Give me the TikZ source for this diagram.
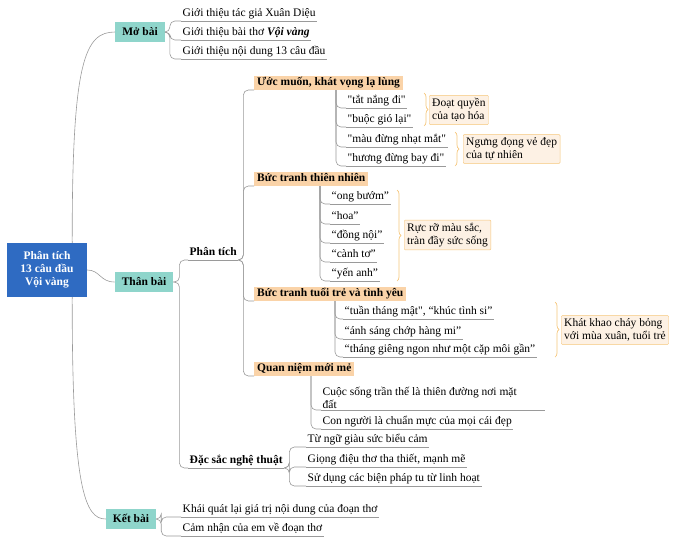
\documentclass[tikz,border=0pt]{standalone}
\usepackage{fontspec}
\setmainfont{Liberation Serif}
\usetikzlibrary{decorations.pathreplacing}
\definecolor{teal1}{HTML}{8FD5CB}
\definecolor{or1}{HTML}{FAD3A8}
\definecolor{or2}{HTML}{F5C67A}
\definecolor{note}{HTML}{FDF1E4}
\definecolor{rootb}{HTML}{2F6BC2}
\definecolor{ln}{HTML}{9A9A9A}
\newcommand\dq{\textquotedbl}
\tikzset{
 line/.style={draw=ln,line width=0.6pt},
 base/.style={font=\fontsize{11.5}{13}\selectfont,inner sep=1.5pt,text height=8.5pt,text depth=2.5pt},
 leaf/.style={base,anchor=south west,append after command={(\tikzlastnode.south west) edge[line] (\tikzlastnode.south east)}},
 main/.style={base,fill=teal1,font=\fontsize{11.5}{13}\selectfont\bfseries,minimum height=20pt,inner xsep=7pt},
 sub/.style={base,anchor=south west,fill=or1,font=\fontsize{11.5}{13}\selectfont\bfseries,inner xsep=3pt},
 nt/.style={base,draw=or2,fill=note,align=left,anchor=west,inner sep=3pt,text height=,text depth=,rounded corners=1pt},
 br/.style={draw=or2,line width=0.7pt,decorate,decoration={brace,amplitude=4pt}},
 cn/.style={line,rounded corners=5pt}
}
\begin{document}
\begin{tikzpicture}[x=1pt,y=-1pt]
\useasboundingbox (0,0) rectangle (680,541);
% root
\node[fill=rootb,text=white,font=\fontsize{11.5}{13}\selectfont\bfseries,align=center,minimum width=80pt,minimum height=54pt,inner sep=2pt] (root) at (47,270) {Phân tích\\13 câu đầu\\Vội vàng};
\node[main] (mb) at (140,32) {Mở bài};
\node[main] (tb) at (144,282) {Thân bài};
\node[main] (kb) at (131,519) {Kết bài};
\draw[line] ([xshift=-15pt]root.north east) .. controls (72,60) and (85,32) .. (mb.west);
\draw[line] (root.east) .. controls (100,270) and (100,282) .. (tb.west);
\draw[line] ([xshift=-15pt]root.south east) .. controls (72,490) and (85,519) .. (kb.west);
% Mo bai
\node[leaf] (m1) at (181,21) {Giới thiệu tác giả Xuân Diệu};
\node[leaf] (m2) at (181,40) {Giới thiệu bài thơ \textbf{\textit{Vội vàng}}};
\node[leaf] (m3) at (181,59) {Giới thiệu nội dung 13 câu đầu};
\foreach \c in {m1,m2,m3} \draw[cn] (mb.east) -- ++(5,0) |- (\c.south west);
% Than bai
\node[base,anchor=south west,font=\fontsize{11.5}{13}\selectfont\bfseries] (pt) at (188,260) {Phân tích};
\node[base,anchor=south west,font=\fontsize{11.5}{13}\selectfont\bfseries] (ds) at (188,468) {Đặc sắc nghệ thuật};
\draw[line] (pt.south west) -- (pt.south east);
\draw[line] (ds.south west) -- (ds.south east);
\draw[cn] (tb.east) -- ++(6,0) |- (pt.south west);
\draw[cn] (tb.east) -- ++(6,0) |- (ds.south west);
% Phan tich subs
\node[sub] (u) at (254,90) {Ước muốn, khát vọng lạ lùng};
\node[sub] (t) at (254,186) {Bức tranh thiên nhiên};
\node[sub] (y) at (254,301) {Bức tranh tuổi trẻ và tình yêu};
\node[sub] (q) at (254,376) {Quan niệm mới mẻ};
\foreach \c in {u,t,y,q} \draw[cn] (pt.south east) -- ++(5,0) |- (\c.south west);
% Uoc muon
\node[leaf] (u1) at (346,108) {\dq tắt nắng đi\dq};
\node[leaf] (u2) at (346,127) {\dq buộc gió lại\dq};
\node[leaf] (u3) at (346,147) {\dq màu đừng nhạt mắt\dq};
\node[leaf] (u4) at (346,166) {\dq hương đừng bay đi\dq};
\foreach \c in {u1,u2,u3,u4} \draw[cn] ([xshift=82pt]u.south west) |- (\c.south west);
\draw[br] (424,93) -- (424,126);
\draw[br] (455,132) -- (455,166);
\node[nt] (n1) at (429,110) {Đoạt quyền\\của tạo hóa};
\node[nt] (n2) at (463,149) {Ngưng đọng vẻ đẹp\\của tự nhiên};
% Thien nhien
\node[leaf] (t1) at (330,204) {“ong bướm”};
\node[leaf] (t2) at (330,224) {“hoa”};
\node[leaf] (t3) at (330,243) {“đồng nội”};
\node[leaf] (t4) at (330,262) {“cành tơ”};
\node[leaf] (t5) at (330,281) {“yến anh”};
\foreach \c in {t1,t2,t3,t4,t5} \draw[cn] ([xshift=66pt]t.south west) |- (\c.south west);
\draw[br] (397,190) -- (397,281);
\node[nt] (n3) at (404,235) {Rực rỡ màu sắc,\\tràn đầy sức sống};
% Tuoi tre
\node[leaf] (y1) at (343,319) {“tuần tháng mật\dq, “khúc tình si”};
\node[leaf] (y2) at (343,339) {“ánh sáng chớp hàng mi”};
\node[leaf] (y3) at (343,357) {“tháng giêng ngon như một cặp môi gần”};
\foreach \c in {y1,y2,y3} \draw[cn] ([xshift=81pt]y.south west) |- (\c.south west);
\draw[br] (555,302) -- (555,357);
\node[nt] (n4) at (561,330) {Khát khao cháy bỏng\\với mùa xuân, tuổi trẻ};
% Quan niem
\node[base,anchor=south west,align=left,text height=,text depth=] (q1) at (321,410) {Cuộc sống trần thế là thiên đường nơi mặt\\đất};
\draw[line] (q1.south west) -- ++(224,0);
\node[leaf] (q2) at (321,429) {Con người là chuẩn mực của mọi cái đẹp};
\foreach \c in {q1,q2} \draw[cn] ([xshift=57pt]q.south west) |- (\c.south west);
% Dac sac
\node[leaf] (d1) at (306,447) {Từ ngữ giàu sức biểu cảm};
\node[leaf] (d2) at (306,467) {Giọng điệu thơ tha thiết, mạnh mẽ};
\node[leaf] (d3) at (306,486) {Sử dụng các biện pháp tu từ linh hoạt};
\foreach \c in {d1,d2,d3} \draw[cn] (ds.south east) -- ++(5,0) |- (\c.south west);
% Ket bai
\node[leaf] (k1) at (181,517) {Khái quát lại giá trị nội dung của đoạn thơ};
\node[leaf] (k2) at (181,536) {Cảm nhận của em về đoạn thơ};
\foreach \c in {k1,k2} \draw[cn] (kb.east) -- ++(5,0) |- (\c.south west);
\end{tikzpicture}
\end{document}
